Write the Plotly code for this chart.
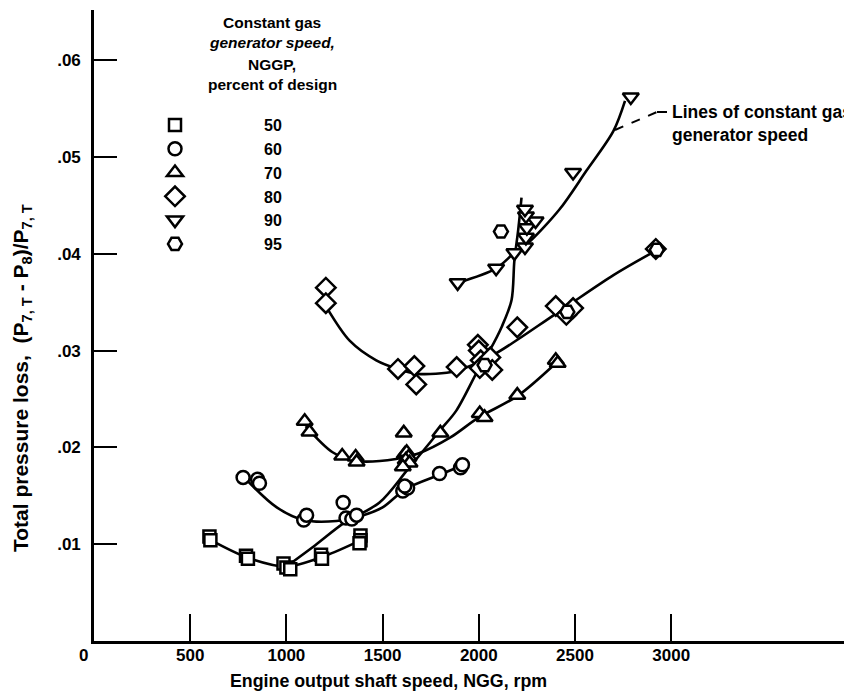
import plotly.graph_objects as go

# ---------------- data ----------------
# 50 % NGGP (squares)
sq_x = [600, 605, 790, 800, 985, 1000, 1020, 1180, 1185, 1385, 1385, 1380]
sq_y = [0.0108, 0.0104, 0.0088, 0.0085, 0.0080, 0.0076, 0.0074, 0.0089, 0.0085, 0.0109, 0.0104, 0.0101]
# 60 % (circles)
ci_x = [775, 850, 860, 1090, 1105, 1295, 1310, 1340, 1365, 1605, 1630, 1615, 1796, 1905, 1915]
ci_y = [0.0169, 0.0167, 0.0163, 0.0125, 0.0130, 0.0143, 0.0127, 0.0126, 0.0130, 0.0155, 0.0158, 0.0160, 0.0173, 0.0179, 0.0182]
# 70 % (triangles up)
tu_x = [1095, 1120, 1290, 1360, 1365, 1610, 1615, 1625, 1635, 1620, 1640, 1605, 1800, 2005, 2030, 2200, 2400, 2410]
tu_y = [0.0227, 0.0216, 0.0191, 0.0190, 0.0185, 0.0215, 0.0193, 0.0195, 0.0190, 0.0187, 0.0184, 0.0180, 0.0215, 0.0235, 0.0231, 0.0254, 0.0290, 0.0287]
# 80 % (diamonds)
di_x = [1205, 1205, 1580, 1665, 1675, 1885, 1995, 2000, 2010, 2005, 2060, 2070, 2200, 2400, 2455, 2490, 2920]
di_y = [0.0365, 0.0349, 0.0281, 0.0284, 0.0265, 0.0283, 0.0306, 0.0300, 0.0290, 0.0282, 0.0293, 0.0280, 0.0324, 0.0346, 0.0337, 0.0344, 0.0405]
# 90 % (triangles down)
td_x = [1890, 2090, 2185, 2240, 2245, 2250, 2295, 2245, 2240, 2490, 2790]
td_y = [0.0370, 0.0385, 0.0401, 0.0407, 0.0417, 0.0427, 0.0434, 0.0439, 0.0446, 0.0484, 0.0562]
# 95 % (hexagons)
hx_x = [2115, 2030, 2460, 2925]
hx_y = [0.0423, 0.0285, 0.0340, 0.0404]

# faired curves of constant gas generator speed
c50_x = [600, 800, 1000, 1200, 1385]
c50_y = [0.0105, 0.0086, 0.0077, 0.0088, 0.0104]
c60_x = [790, 950, 1090, 1260, 1400, 1500, 1620, 1800, 1910]
c60_y = [0.0167, 0.0138, 0.0125, 0.0124, 0.0130, 0.0138, 0.0157, 0.0172, 0.0181]
c70_x = [1100, 1240, 1360, 1570, 1690, 1850, 2000, 2200, 2400]
c70_y = [0.0222, 0.0195, 0.0186, 0.0188, 0.0194, 0.0210, 0.0231, 0.0253, 0.0287]
c80_x = [1205, 1330, 1467, 1580, 1680, 1880, 2070, 2400, 2700, 2900]
c80_y = [0.0346, 0.0310, 0.0290, 0.0281, 0.0276, 0.0279, 0.0295, 0.0338, 0.0378, 0.0401]
c90_x = [1890, 2090, 2190, 2250, 2420, 2560, 2700, 2760]
c90_y = [0.0370, 0.0385, 0.0402, 0.0410, 0.0446, 0.0486, 0.0527, 0.0558]
# crossing line through the minima
cx_x = [1000, 1150, 1300, 1484, 1630, 1800, 1883, 2004, 2056, 2120, 2170, 2185, 2205, 2222]
cx_y = [0.0077, 0.0099, 0.0122, 0.0143, 0.0177, 0.0218, 0.0238, 0.0283, 0.0300, 0.0325, 0.0352, 0.0393, 0.0425, 0.0458]

legend_labels = ["50", "60", "70", "80", "90", "95"]
x_ticks = [500, 1000, 1500, 2000, 2500, 3000]
y_ticks = [0.01, 0.02, 0.03, 0.04, 0.05, 0.06]
y_ticktext = [".01", ".02", ".03", ".04", ".05", ".06"]

# ---------------- figure ----------------
F_SANS = "Liberation Sans, Arial, sans-serif"
OFF = 8                      # page body margin
W, H = 852 - OFF, 698 - OFF
ML, MR, MT, MB = 94 - OFF, 0, 10 - OFF, 57
PW, PH = W - ML - MR, H - MT - MB
XMAX = PW / 96.2 * 500
YMAX = PH / 96.8 * 0.01


def pxx(px):   # page pixel -> paper x
    return (px - OFF - ML) / PW


def pxy(py):   # page pixel -> paper y
    return (H - MB - (py - OFF)) / PH


fig = go.Figure()

for cxs, cys in [(c50_x, c50_y), (c60_x, c60_y), (c70_x, c70_y), (c80_x, c80_y),
                 (c90_x, c90_y), (cx_x, cx_y)]:
    fig.add_trace(go.Scatter(x=cxs, y=cys, mode="lines", showlegend=False,
                             line=dict(color="black", width=2.6, shape="spline", smoothing=0.9),
                             hoverinfo="skip"))

series = [
    (sq_x, sq_y, "square", 12),
    (ci_x, ci_y, "circle", 13),
    (tu_x, tu_y, "triangle-up", 14),
    (di_x, di_y, "diamond", 15),
    (td_x, td_y, "triangle-down", 14),
    (hx_x, hx_y, "hexagon2", 14),
]
for (xs, ys, sym, sz), lab in zip(series, legend_labels):
    fig.add_trace(go.Scatter(x=xs, y=ys, mode="markers", name=lab,
                             marker=dict(symbol=sym, size=sz, color="white",
                                         line=dict(color="black", width=2.5))))

IW = 168
TICKFONT = dict(family=F_SANS, size=17, color="black", weight="bold")
fig.update_layout(
    width=W, height=H,
    margin=dict(l=ML, r=MR, t=MT, b=MB),
    paper_bgcolor="white", plot_bgcolor="white",
    font=dict(family=F_SANS, size=17, color="black"),
    showlegend=True,
    legend=dict(x=pxx(175 - (IW / 2 + 5)), y=pxy(108), xanchor="left", yanchor="top",
                bgcolor="rgba(0,0,0,0)", itemwidth=IW,
                font=dict(family=F_SANS, size=16, color="black", weight="bold")),
    xaxis=dict(range=[0, XMAX], showgrid=False, zeroline=False, showline=True,
               linecolor="black", linewidth=2.6, ticks="inside", ticklen=27,
               tickwidth=2.4, tickcolor="black", tickvals=x_ticks,
               ticktext=[str(v) for v in x_ticks], ticklabelstandoff=-3,
               tickfont=TICKFONT),
    yaxis=dict(range=[0, YMAX], showgrid=False, zeroline=False, showline=True,
               linecolor="black", linewidth=2.6, ticks="inside", ticklen=23,
               tickwidth=2.4, tickcolor="black", tickvals=y_ticks,
               ticktext=y_ticktext, ticklabelstandoff=7,
               tickfont=TICKFONT),
)

ytitle = "Total pressure loss,  (P<sub>7, T</sub> - P<sub>8</sub>)/P<sub>7, T</sub>"

ann = [
    dict(text="0", x=pxx(83), y=pxy(655), font=dict(size=17)),
    dict(text="Engine output shaft speed, NGG, rpm", x=pxx(388), y=pxy(681),
         font=dict(size=17.8)),
    dict(text=ytitle, x=pxx(22), y=pxy(378), textangle=-90, font=dict(size=21)),
    dict(text="Constant gas", x=pxx(272), y=pxy(22), font=dict(size=15.5)),
    dict(text="<i>generator speed,</i>", x=pxx(272), y=pxy(43), font=dict(size=15.5)),
    dict(text="NGGP,", x=pxx(272), y=pxy(64), font=dict(size=15.5)),
    dict(text="percent of design", x=pxx(272), y=pxy(85), font=dict(size=15.5)),
    dict(text="Lines of constant gas<br>generator speed", x=pxx(670), y=pxy(123),
         xanchor="left", align="left", font=dict(size=17.5)),
]
for a in ann:
    base = dict(xref="paper", yref="paper", showarrow=False,
                xanchor="center", yanchor="middle")
    base.update(a)
    base["font"] = dict(family=F_SANS, color="black", weight="bold", **a["font"])
    fig.add_annotation(**base)

# leader line for the note
fig.add_shape(type="line", xref="paper", yref="paper", x0=pxx(615), y0=pxy(130),
              x1=pxx(657), y1=pxy(112), line=dict(color="black", width=2, dash="dash"))
fig.add_shape(type="line", xref="paper", yref="paper", x0=pxx(657), y0=pxy(112),
              x1=pxx(667), y1=pxy(112), line=dict(color="black", width=2))

fig.write_html("out.html")
